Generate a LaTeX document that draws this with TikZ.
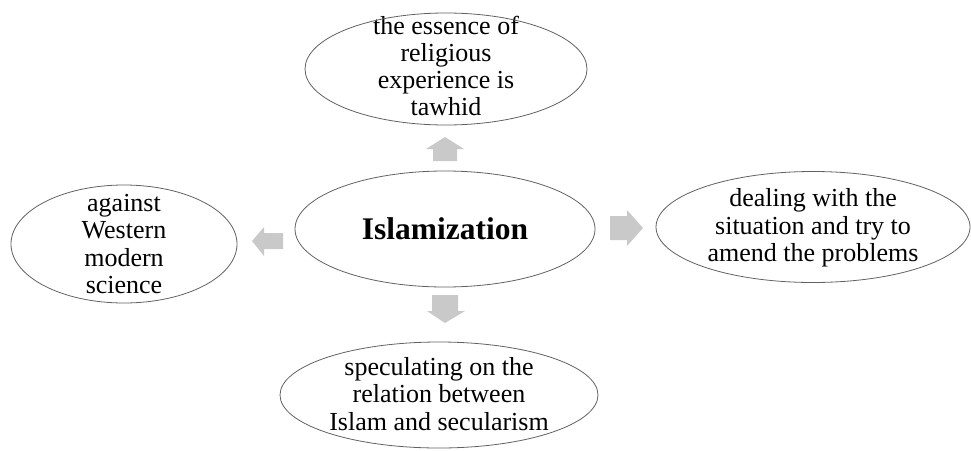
\documentclass[tikz,border=0pt]{standalone}
\usepackage{fontspec}
\setmainfont{Liberation Serif}
\begin{document}
\begin{tikzpicture}[x=1pt,y=-1pt,
  idea/.style={inner sep=0pt, align=center, font=\fontsize{26}{27.3}\selectfont},
  outline/.style={draw=black!62, line width=0.8pt},
  arrowfill/.style={fill=black!21, draw=none}]
\useasboundingbox (0,0) rectangle (971,450);

% central idea
\node[idea, font=\fontsize{31.5}{34}\selectfont\bfseries] (c) at (445,229) {Islamization};
\draw[outline] (c.center) ellipse [x radius=150, y radius=58];

% surrounding ideas (the ellipses keep a fixed size, text may reach past them)
\node[idea] (t) at (446,66)
  {the essence of\\religious\\experience is\\tawhid};
\draw[outline] (446,69) ellipse [x radius=141, y radius=56];

\node[idea] (l) at (124,244)
  {against\\Western\\modern\\science};
\draw[outline] (l.center) ellipse [x radius=113, y radius=59];

\node[idea] (r) at (813,228)
  {dealing with the\\situation and try to\\amend the problems};
\draw[outline] (813,227) ellipse [x radius=157, y radius=55.5];

\node[idea] (b) at (439,394)
  {speculating on the\\relation between\\Islam and secularism};
\draw[outline] (439,395) ellipse [x radius=159, y radius=53];

% block arrows between the centre and each idea
\fill[arrowfill] (433,161) -- (433,149) -- (426,149) -- (445,137)
  -- (464,149) -- (457,149) -- (457,161) -- cycle;
\fill[arrowfill] (432,295) -- (458,295) -- (458,311) -- (465,311)
  -- (445,323) -- (427,311) -- (432,311) -- cycle;
\fill[arrowfill] (283,233) -- (264,233) -- (264,227) -- (252,241)
  -- (264,256) -- (264,249) -- (283,249) -- cycle;
\fill[arrowfill] (610,216) -- (627,216) -- (627,210) -- (643,228)
  -- (627,246) -- (627,240) -- (610,240) -- cycle;
\end{tikzpicture}
\end{document}
